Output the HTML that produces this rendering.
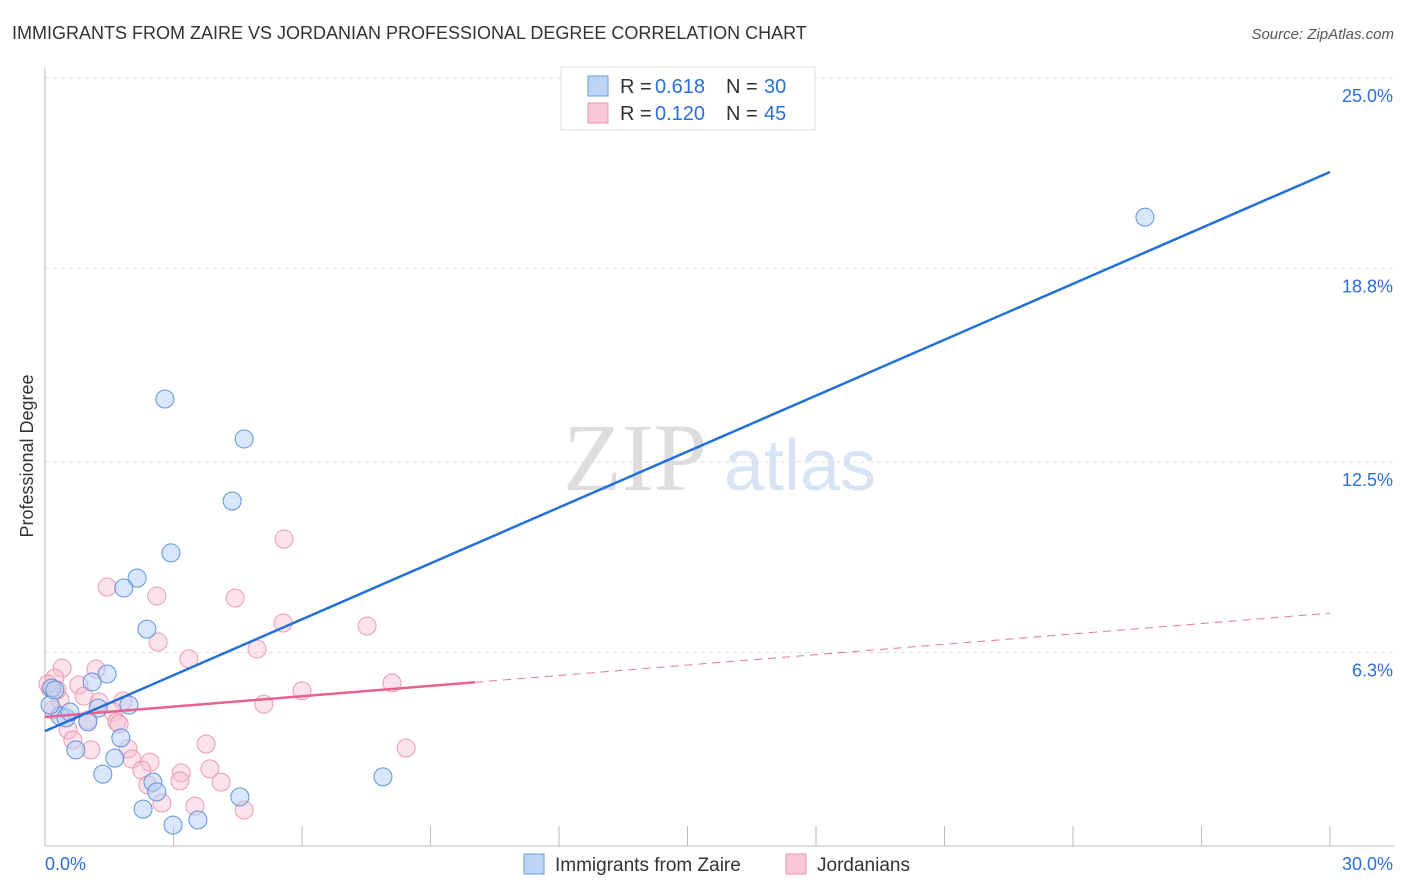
<!DOCTYPE html>
<html><head><meta charset="utf-8"><style>
body{margin:0;background:#fff;font-family:"Liberation Sans",sans-serif;}
svg{display:block}
</style></head><body>
<svg width="1406" height="892" xmlns="http://www.w3.org/2000/svg">
<text x="12" y="39" font-size="18" fill="#333">IMMIGRANTS FROM ZAIRE VS JORDANIAN PROFESSIONAL DEGREE CORRELATION CHART</text>
<text x="1394" y="39" font-size="15" fill="#555" font-style="italic" text-anchor="end">Source: ZipAtlas.com</text>
<g>
<text x="635" y="490" font-size="96" fill="#ddd" font-family="Liberation Serif,serif" text-anchor="middle">ZIP</text>
<text x="800" y="490" font-size="72" fill="#d6e4f5" text-anchor="middle">atlas</text>
</g>
<g id="grid"></g>
<g id="axes"></g>
<g id="marks"></g>
<text transform="translate(33,456) rotate(-90)" font-size="18" fill="#333" text-anchor="middle">Professional Degree</text>
<g>
<rect x="561" y="67" width="254" height="63" fill="#fff" stroke="#ddd"/>
<rect x="588" y="76" width="20" height="20" fill="#bcd5f5" stroke="#6a9be0"/>
<text x="620" y="93" font-size="20" fill="#333">R =</text>
<text x="655" y="93" font-size="20" fill="#2a6fd6">0.618</text>
<text x="726" y="93" font-size="20" fill="#333">N =</text>
<text x="764" y="93" font-size="20" fill="#2a6fd6">30</text>
<rect x="588" y="103" width="20" height="20" fill="#f9c8d6" stroke="#e995b0"/>
<text x="620" y="120" font-size="20" fill="#333">R =</text>
<text x="655" y="120" font-size="20" fill="#2a6fd6">0.120</text>
<text x="726" y="120" font-size="20" fill="#333">N =</text>
<text x="764" y="120" font-size="20" fill="#2a6fd6">45</text>
</g>
<g>
<rect x="524" y="854" width="20" height="20" fill="#bcd5f5" stroke="#6a9be0"/>
<text x="555" y="871" font-size="19" fill="#333">Immigrants from Zaire</text>
<rect x="786" y="854" width="20" height="20" fill="#f9c8d6" stroke="#e995b0"/>
<text x="817" y="871" font-size="19" fill="#333">Jordanians</text>
</g>
</svg>
<script>
const yTicks=[6.3,12.5,18.8,25.0];
const yTickLabels=["6.3%","12.5%","18.8%","25.0%"];
const xTickCount=10;
const blueX=[2.80,4.65,4.37,2.94,2.15,1.84,2.38,1.45,1.10,1.96,1.24,0.35,1.00,0.49,1.77,0.72,1.63,1.35,2.52,2.61,4.55,2.29,3.57,2.99,7.89,25.68,0.16,0.12,0.23,0.58];
const blueY=[14.55,13.25,11.23,9.54,8.72,8.40,7.06,5.60,5.34,4.59,4.49,4.23,4.04,4.17,3.52,3.13,2.86,2.34,2.08,1.76,1.60,1.20,0.85,0.68,2.25,20.47,5.14,4.59,5.08,4.36];
const pinkX=[1.45,2.61,4.44,5.58,2.64,5.56,7.52,3.36,4.95,0.40,1.19,0.23,0.79,6.00,8.10,5.11,1.82,1.26,0.91,0.35,1.59,1.00,1.68,1.73,0.54,0.65,1.07,1.94,2.45,2.03,3.76,2.26,3.18,3.85,8.43,3.15,2.40,4.11,3.50,2.73,4.65,0.12,0.28,0.07,0.19];
const pinkY=[8.43,8.14,8.07,9.99,6.64,7.26,7.16,6.09,6.41,5.79,5.76,5.47,5.24,5.05,5.31,4.62,4.72,4.69,4.88,4.75,4.36,4.10,4.04,3.97,3.78,3.45,3.13,3.16,2.73,2.83,3.32,2.47,2.38,2.51,3.19,2.12,1.99,2.08,1.30,1.40,1.17,5.14,5.08,5.27,4.43];
const blueTrend=[3.74,21.94];
const pinkTrend=[4.2,7.58];
const pinkSolidEnd=10.04;
const NS="http://www.w3.org/2000/svg";
const X=v=>45+v/30*1285, Y=v=>846-v/25*768;
function mk(t,a,p){const e=document.createElementNS(NS,t);for(const k in a)e.setAttribute(k,a[k]);p.appendChild(e);return e;}
const grid=document.getElementById('grid'),axes=document.getElementById('axes'),marks=document.getElementById('marks');
yTicks.forEach((t,i)=>{
 const l=mk('line',{x1:45,x2:1394,y1:Y(t),y2:Y(t),stroke:'#ddd','stroke-dasharray':'4,4'},grid);
 
 
 const tx=mk('text',{x:1393,y:Y(t)+24,'font-size':18,fill:'#2a6fd6','text-anchor':'end'},axes);
 tx.textContent=yTickLabels[i];
 
 
});
mk('line',{x1:45,x2:45,y1:68,y2:846,stroke:'#bbb'},axes);
mk('line',{x1:45,x2:1394,y1:846,y2:846,stroke:'#bbb'},axes);
for(let i=1;i<=xTickCount;i++){const t=mk('line',{x1:X(i*3),x2:X(i*3),y1:826,y2:846,stroke:'#bbb'},axes);
 
 }
let a=mk('text',{x:45,y:870,'font-size':18,fill:'#2a6fd6'},axes);a.textContent='0.0%';


a=mk('text',{x:1393,y:870,'font-size':18,fill:'#2a6fd6','text-anchor':'end'},axes);a.textContent='30.0%';


pinkX.forEach((x,i)=>{const c=mk('circle',{cx:X(x),cy:Y(pinkY[i]),r:9,fill:'rgba(249,190,208,0.45)',stroke:'#eb9ab4','stroke-width':1},marks);
 
 });
blueX.forEach((x,i)=>{const c=mk('circle',{cx:X(x),cy:Y(blueY[i]),r:9,fill:'rgba(180,208,245,0.5)',stroke:'#5d93dc','stroke-width':1},marks);
 
 });
const pm=pinkTrend[0]+(pinkTrend[1]-pinkTrend[0])*pinkSolidEnd/30;
let l=mk('line',{x1:X(pinkSolidEnd),y1:Y(pm),x2:X(30),y2:Y(pinkTrend[1]),stroke:'#e8759a','stroke-width':1,'stroke-dasharray':'8,6'},marks);


l=mk('line',{x1:X(0),y1:Y(pinkTrend[0]),x2:X(pinkSolidEnd),y2:Y(pm),stroke:'#e8608d','stroke-width':2.5},marks);


l=mk('line',{x1:X(0),y1:Y(blueTrend[0]),x2:X(30),y2:Y(blueTrend[1]),stroke:'#2370d8','stroke-width':2.5},marks);


</script>
</body></html>
